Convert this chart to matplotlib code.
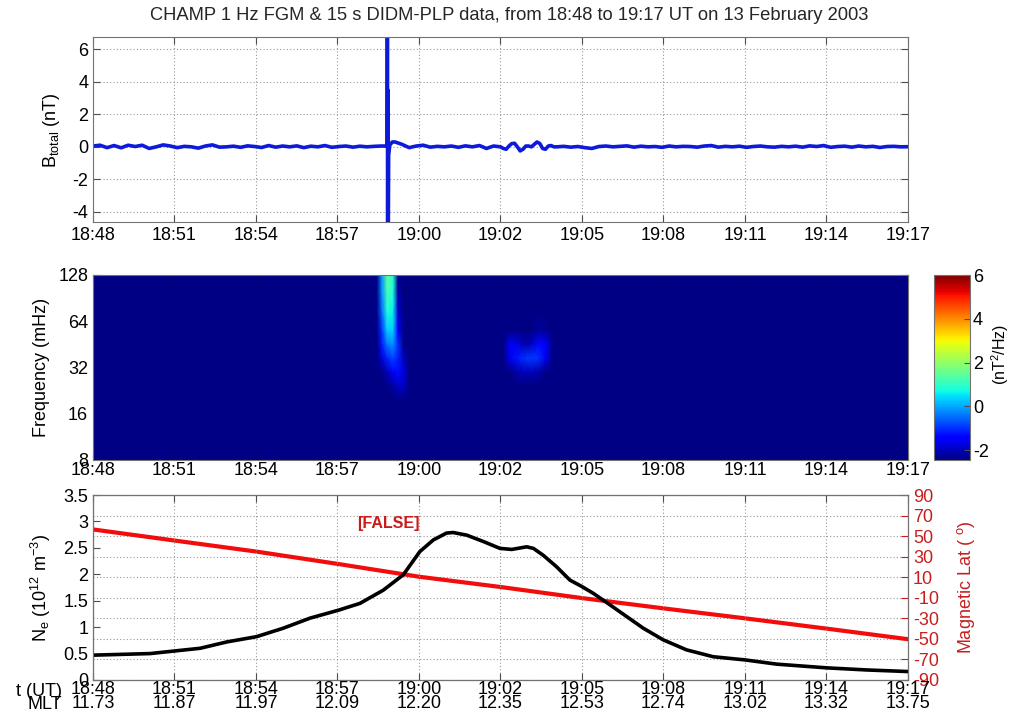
import numpy as np
import matplotlib
matplotlib.use("Agg")
import matplotlib.pyplot as plt
from matplotlib.ticker import FixedLocator, FixedFormatter

plt.rcParams['font.family'] = ['Liberation Sans', 'DejaVu Sans']
plt.rcParams['font.size'] = 13
plt.rcParams['axes.linewidth'] = 0.8
plt.rcParams['axes.unicode_minus'] = False

# ---------------- data ----------------
title = "CHAMP 1 Hz FGM & 15 s DIDM-PLP data, from 18:48 to 19:17 UT on 13 February 2003"
ut_labels = ["18:48", "18:51", "18:54", "18:57", "19:00", "19:02",
             "19:05", "19:08", "19:11", "19:14", "19:17"]
mlt_labels = ["11.73", "11.87", "11.97", "12.09", "12.20", "12.35",
              "12.53", "12.74", "13.02", "13.32", "13.75"]
span_min = 29.0  # minutes from 18:48 to 19:17

# B_total (nT), minutes since 18:48
b_seg1 = [0.05, 0.1, -0.05, 0.08, -0.06, 0.1, 0.02, 0.1, -0.1, 0.0, 0.12, 0.05,
          -0.05, 0.03, 0.0, -0.08, 0.05, 0.12, -0.02, 0.0, 0.04, -0.03, 0.06, 0.02,
          -0.04, 0.08, -0.02, 0.05, 0.0, 0.06, -0.05, 0.04, 0.0, 0.08, -0.03, 0.02,
          0.05, -0.02, 0.04, 0.0, 0.03, 0.05]
b_spike_t = [10.44, 10.465, 10.475, 10.485, 10.495, 10.505, 10.52, 10.56, 10.65]
b_spike = [0.05, 0.1, 8.0, -6.0, 3.5, -6.0, -0.5, 0.1, 0.3]
b_seg2 = [0.3, 0.15, -0.05, 0.05, 0.1, -0.02, 0.03, 0.0, 0.05, -0.03, 0.06, 0.0,
          0.08, -0.1, 0.05]
b_wave = [0.0, -0.1, -0.15, 0.05, 0.2, 0.22, 0.0, -0.25, -0.15, 0.05, 0.05, 0.0,
          0.15, 0.3, 0.2, -0.1, -0.15, 0.05, 0.08, 0.0]
b_seg3 = [0.0, 0.03, -0.02, 0.02, -0.05, -0.1, 0.02, 0.05, 0.0, 0.03, 0.06, -0.02,
          0.04, 0.0, 0.02, -0.03, 0.05, 0.0, 0.03, 0.02, -0.02, 0.05, 0.08, -0.02,
          0.03, 0.0, 0.04, -0.03, 0.02, 0.05, 0.0, -0.02, 0.03, 0.0, 0.04, -0.02,
          0.06, 0.02, 0.08, -0.03, 0.02, 0.04, -0.02, 0.05, 0.0, 0.03, -0.04, 0.02,
          0.03, 0.0, 0.01]

# Spectrogram nodes (minutes, mHz) and log power (nT^2/Hz)
B = -2.4
spec_t = [0, 10.1, 10.27, 10.47, 10.67, 10.85, 11.05, 11.25,
          14.6, 14.85, 15.1, 15.35, 15.6, 15.85, 16.1, 16.35, 29]
spec_f = [8, 19.7, 24.3, 29.9, 36.8, 45.3, 55.7, 73.5, 97.0, 128]
spec_p = [
    [B, B, B, B, B, B, B, B, B, B, B, B, B, B, B, B, B],
    [B, B, B, B, B, B, B, B, B, B, B, B, B, B, B, B, B],
    [B, B, B, B, -2.2, -1.9, -1.9, B, B, B, B, B, B, B, B, B, B],
    [B, B, B, -2.0, -1.5, -1.3, -1.7, B, B, B, -2.1, -2.0, -2.0, -2.1, B, B, B],
    [B, B, -1.8, -1.1, -0.8, -1.1, -2.0, B, B, -1.6, -1.2, -1.0, -0.9, -1.0, -1.6, B, B],
    [B, B, -1.2, -0.4, -0.2, -1.0, B, B, B, -1.5, -1.7, -2.1, -1.9, -1.3, -1.5, B, B],
    [B, B, -1.0, 0.3, 0.3, -1.4, B, B, B, B, B, B, B, -2.2, -2.3, B, B],
    [B, B, -0.6, 0.8, 0.6, -1.8, B, B, B, B, B, B, B, B, B, B, B],
    [B, B, -0.3, 1.2, 0.8, -2.1, B, B, B, B, B, B, B, B, B, B, B],
    [B, B, -0.2, 1.5, 0.9, B, B, B, B, B, B, B, B, B, B, B, B],
]

# Electron density (1e12 m^-3)
ne_t = [0, 2.03, 2.92, 3.81, 4.76, 5.82, 6.77, 7.72, 8.73, 9.5, 10.33, 11.04,
        11.63, 12.11, 12.58, 12.82, 13.3, 13.89, 14.48, 14.9, 15.43, 15.67, 16.02,
        16.5, 16.97, 17.39, 17.8, 18.4, 18.99, 19.58, 20.29, 21.12, 22.07, 23.2,
        24.33, 26.1, 27.53, 29.0]
ne = [0.47, 0.50, 0.55, 0.60, 0.72, 0.82, 0.98, 1.17, 1.32, 1.45, 1.70, 1.99,
      2.43, 2.65, 2.78, 2.79, 2.74, 2.62, 2.49, 2.47, 2.52, 2.49, 2.36,
      2.14, 1.89, 1.77, 1.64, 1.42, 1.20, 0.98, 0.76, 0.57, 0.44, 0.38,
      0.30, 0.23, 0.19, 0.16]

# Magnetic latitude (deg)
mlat_t = [0, 2.9, 5.8, 8.7, 11.6, 14.5, 17.4, 20.3, 23.2, 26.1, 29.0]
mlat = [56.5, 45.7, 35.0, 23.0, 10.5, 0.5, -10.3, -20.3, -30.0, -40.0, -50.3]

# ---------------- figure ----------------
W, H = 1012, 724
fig = plt.figure(figsize=(W / 100, H / 100), dpi=100)

def rect(x0, y0, x1, y1):
    return [x0 / W, 1 - y1 / H, (x1 - x0) / W, (y1 - y0) / H]

xticks = np.linspace(0, span_min, len(ut_labels))
grid_kw = dict(color='0.6', linestyle=(0, (1, 2)), linewidth=0.8)
red_dark = (0.78, 0.12, 0.12)

def style_time_axis(ax, labels):
    ax.set_xlim(0, span_min)
    ax.xaxis.set_major_locator(FixedLocator(xticks))
    ax.xaxis.set_major_formatter(FixedFormatter(labels))
    ax.tick_params(direction='in', top=True, right=True, length=5, width=0.8,
                   colors='0.3', labelcolor='black', labelsize=13)
    for s in ax.spines.values():
        s.set_color('0.45')

# --- top panel ---
ax1 = fig.add_axes(rect(93, 37.3, 908, 222.3))
t1 = np.linspace(0, 10.25, len(b_seg1))
t2 = np.linspace(10.75, 14.25, len(b_seg2))
tw = np.linspace(14.5, 16.4, len(b_wave))
t3 = np.linspace(16.5, 29.0, len(b_seg3))
bt = np.concatenate([t1, b_spike_t, t2, tw, t3])
bv = np.concatenate([b_seg1, b_spike, b_seg2, b_wave, b_seg3])
ax1.plot(bt, bv, color=(0.05, 0.1, 0.85), lw=2.6, solid_joinstyle='round')
ax1.set_ylim(-4.65, 6.75)
ax1.set_yticks([-4, -2, 0, 2, 4, 6])
style_time_axis(ax1, ut_labels)
ax1.grid(True, **grid_kw)
ax1.set_ylabel(r"B$_{\mathregular{total}}$ (nT)")
ax1.yaxis.set_label_coords(-0.038, 0.5)
fig.text(509 / W, 1 - 15 / H, title, ha='center', va='center', fontsize=13.2,
         color='0.15')

# --- middle panel (spectrogram) ---
ax2 = fig.add_axes(rect(93, 275, 908, 459.5))
TT, FF = np.meshgrid(spec_t, spec_f)
pm = ax2.pcolormesh(TT, FF, np.array(spec_p), shading='gouraud', cmap='jet',
                    vmin=-2.45, vmax=6.0, rasterized=True)
ax2.set_yscale('log', base=2)
ax2.set_ylim(8, 128)
ax2.yaxis.set_major_locator(FixedLocator([8, 16, 32, 64, 128]))
ax2.yaxis.set_major_formatter(FixedFormatter(["8", "16", "32", "64", "128"]))
ax2.yaxis.set_minor_locator(FixedLocator([]))
style_time_axis(ax2, ut_labels)
ax2.tick_params(colors=(0, 0, 0.45), labelcolor='black')
ax2.tick_params(axis='x', pad=2)
ax2.set_ylabel("Frequency (mHz)")
ax2.yaxis.set_label_coords(-0.0528, 0.5)

cax = fig.add_axes(rect(934, 275, 970, 460))
cb = fig.colorbar(pm, cax=cax, ticks=[-2, 0, 2, 4, 6])
cb.ax.tick_params(direction='in', length=4, width=0.8, colors='0.3',
                  labelcolor='black', labelsize=13, pad=2)
cb.outline.set_edgecolor('0.45')
cb.set_label(r"(nT$^{\mathregular{2}}$/Hz)", fontsize=11.5)
cb.ax.yaxis.set_label_coords(1.55, 0.57)

# --- bottom panel ---
ax3 = fig.add_axes(rect(93, 495, 908, 680))
ax3.plot(ne_t, ne, color='black', lw=2.6, solid_joinstyle='round')
ax3.set_ylim(0, 3.5)
ax3.set_yticks(np.arange(0, 3.51, 0.5))
ax3.set_yticklabels(["0", "0.5", "1", "1.5", "2", "2.5", "3", "3.5"])
style_time_axis(ax3, [u + "\n" + m for u, m in zip(ut_labels, mlt_labels)])
ax3.tick_params(right=False)
ax3.tick_params(axis='x', pad=1)
for lab in ax3.get_xticklabels():
    lab.set_linespacing(0.72)
ax3.xaxis.grid(True, **grid_kw)
ax3.set_ylabel(r"N$_{\mathregular{e}}$ (10$^{\mathregular{12}}$ m$^{\mathregular{-3}}$)")
ax3.yaxis.set_label_coords(-0.049, 0.5)

ax4 = ax3.twinx()
ax4.plot(mlat_t, mlat, color=(0.95, 0.05, 0.05), lw=3)
ax4.set_ylim(-90, 90)
ax4.set_yticks(np.arange(-90, 91, 20))
ax4.tick_params(direction='in', length=5, width=0.8, colors=red_dark,
                labelsize=13)
ax4.yaxis.grid(True, **grid_kw)
ax4.spines['right'].set_color(red_dark)
ax4.set_ylabel(r"Magnetic Lat ( $^{\mathregular{o}}$)", color=red_dark)
ax4.yaxis.set_label_coords(1.0577, 0.5)
ax3.text(10.5, 2.97, "[FALSE]", color=(0.8, 0.1, 0.1), fontweight='bold',
         fontsize=11.5, ha='center', va='center', zorder=5)
ax3.set_zorder(ax4.get_zorder() + 1)
ax3.patch.set_visible(False)

fig.text(62 / W, 1 - 683 / H, "t (UT)\nMLT", ha='right', va='top',
         fontsize=13, linespacing=0.72, multialignment='right')

fig.savefig("out.png", dpi=100)
